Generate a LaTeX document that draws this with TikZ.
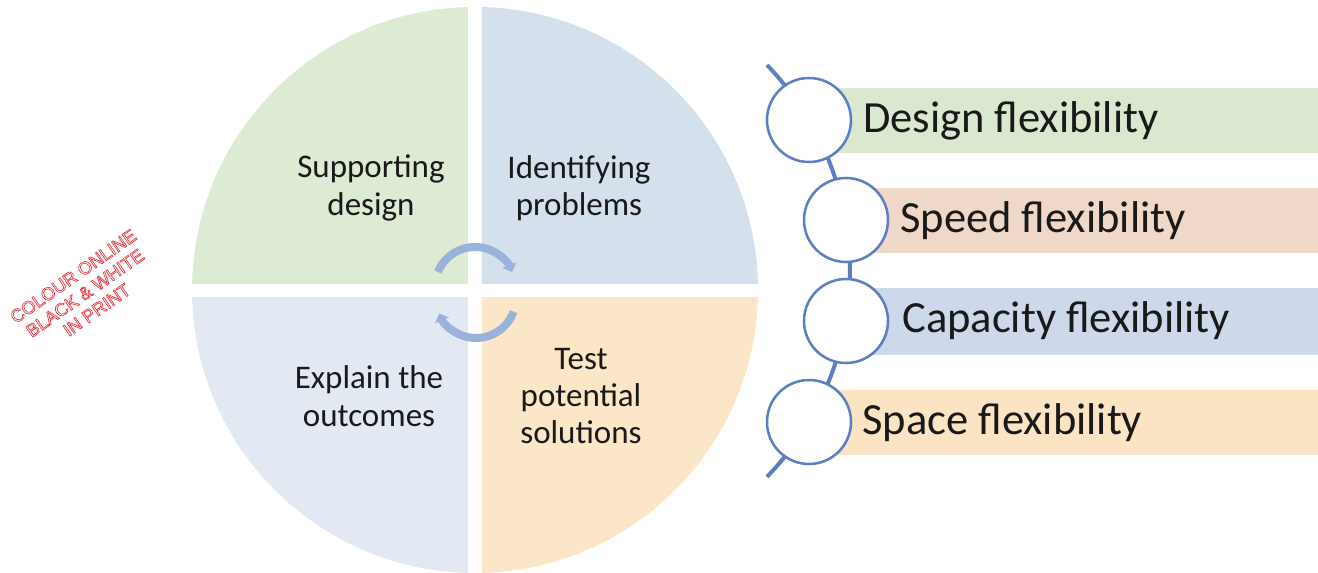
\documentclass[tikz,border=0pt]{standalone}
\usepackage{fontspec}
\setmainfont{Carlito}
\newfontfamily\stampfont{Liberation Sans}
\usetikzlibrary{arrows.meta}
\definecolor{qgreen}{RGB}{221,234,212}
\definecolor{qblue}{RGB}{212,224,236}
\definecolor{qgrey}{RGB}{227,233,242}
\definecolor{qpeach}{RGB}{251,231,200}
\definecolor{bgreen}{RGB}{218,232,208}
\definecolor{bsalmon}{RGB}{240,216,200}
\definecolor{bblue}{RGB}{205,217,234}
\definecolor{bpeach}{RGB}{250,228,196}
\definecolor{cycblue}{RGB}{155,179,219}
\definecolor{chainblue}{RGB}{91,127,192}
\definecolor{txt}{RGB}{25,25,25}
\definecolor{stampred}{RGB}{232,50,60}
\tikzset{
  qtext/.style={align=center, inner sep=0pt, text=txt,
    font=\fontsize{24.75}{28}\selectfont},
  ftext/.style={anchor=base west, inner sep=0pt, text=txt,
    font=\fontsize{33.4}{38}\selectfont},
  ring/.style={circle, draw=chainblue, line width=1.9pt, fill=white,
    minimum size=63pt, inner sep=0pt},
  chain/.style={draw=chainblue, line width=3pt},
  cyc/.style={draw=cycblue, line width=6pt, -{Triangle[length=5.5pt,width=11pt]}},
  stamp/.style={align=center, inner sep=0pt, text=stampred,
    font=\stampfont\fontsize{13.5}{15.4}\selectfont}
}
\begin{document}
\begin{tikzpicture}[x=0.75pt,y=-0.75pt]
\useasboundingbox (0,0) rectangle (1318,573);
% quadrant disc
\begin{scope}
  \clip (475,290) circle[radius=283];
  \fill[qgreen] (180,0) rectangle (468,284);
  \fill[qblue] (482,0) rectangle (770,284);
  \fill[qgrey] (180,297) rectangle (468,580);
  \fill[qpeach] (482,297) rectangle (770,580);
\end{scope}
\node[qtext] (t1) at (371,188) {Supporting\\design};
\node[qtext] (t2) at (579,188) {Identifying\\problems};
\node[qtext] (t3) at (369,396) {Explain the\\outcomes};
\node[qtext] (t4) at (581,396) {Test\\potential\\solutions};
% cycle arrows
\coordinate (ca) at (475,287);
\coordinate (cb) at (476,298);
\draw[cyc] (ca) ++(-158:40) arc[start angle=-158, end angle=-22, radius=40];
\draw[cyc] (cb) ++(20:40) arc[start angle=20, end angle=157, radius=40];
% chain
\coordinate (ctop) at (767,65);
\coordinate (cbot) at (767,478);
\draw[chain] (ctop) arc[start angle=-43.9, end angle=43.9, radius=297];
\fill[bgreen] (809,88) rectangle (1318,153);
\fill[bsalmon] (846,188) rectangle (1318,253);
\fill[bblue] (846,288) rectangle (1318,355);
\fill[bpeach] (809,390) rectangle (1318,455);
\node[ring] (r1) at (809,120) {};
\node[ring] (r2) at (846,220) {};
\node[ring] (r3) at (846,321) {};
\node[ring] (r4) at (809,422) {};
\node[ftext] (f1) at (863,133) {Design flexibility};
\node[ftext] (f2) at (900,233) {Speed flexibility};
\node[ftext] (f3) at (902,333) {Capacity flexibility};
\node[ftext] (f4) at (862,435) {Space flexibility};
% stamp
\node[stamp, rotate=35] (st) at (85,293)
  {\special{pdf:literal direct 1 Tr 0.5 w}COLOUR ONLINE\\BLACK \& WHITE\\IN PRINT\special{pdf:literal direct 0 Tr}};
\end{tikzpicture}
\end{document}
